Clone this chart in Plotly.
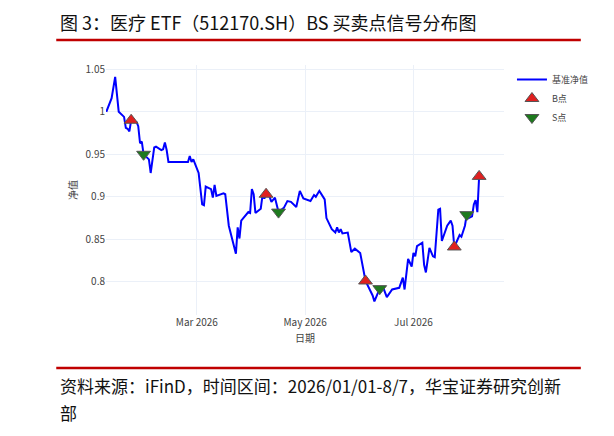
import plotly.graph_objects as go

# net value line
dates = [
    "2026-01-09", "2026-01-12", "2026-01-14", "2026-01-16", "2026-01-19", "2026-01-20",
    "2026-01-21", "2026-01-22", "2026-01-23", "2026-01-26", "2026-01-27", "2026-01-28",
    "2026-01-29", "2026-01-30", "2026-02-02", "2026-02-03", "2026-02-05", "2026-02-06",
    "2026-02-09", "2026-02-10", "2026-02-11", "2026-02-12", "2026-02-13", "2026-02-24",
    "2026-02-25", "2026-02-26", "2026-02-27", "2026-03-02", "2026-03-04", "2026-03-05",
    "2026-03-06", "2026-03-09", "2026-03-10", "2026-03-11", "2026-03-12", "2026-03-16",
    "2026-03-17", "2026-03-19", "2026-03-23", "2026-03-24", "2026-03-25", "2026-03-26",
    "2026-03-30", "2026-03-31", "2026-04-01", "2026-04-02", "2026-04-03", "2026-04-06",
    "2026-04-07", "2026-04-08", "2026-04-09", "2026-04-11", "2026-04-12", "2026-04-14",
    "2026-04-16", "2026-04-19", "2026-04-21", "2026-04-23", "2026-04-26", "2026-04-28",
    "2026-04-30", "2026-05-04", "2026-05-06", "2026-05-07", "2026-05-09", "2026-05-12",
    "2026-05-13", "2026-05-16", "2026-05-18", "2026-05-19", "2026-05-20", "2026-05-21",
    "2026-05-22", "2026-05-25", "2026-05-27", "2026-05-29", "2026-06-01", "2026-06-04",
    "2026-06-08", "2026-06-09", "2026-06-12", "2026-06-14", "2026-06-16", "2026-06-19",
    "2026-06-23", "2026-06-25", "2026-06-26", "2026-06-28", "2026-06-30", "2026-07-01",
    "2026-07-02", "2026-07-03", "2026-07-06", "2026-07-07", "2026-07-08", "2026-07-10",
    "2026-07-12", "2026-07-13", "2026-07-15", "2026-07-16", "2026-07-17", "2026-07-20",
    "2026-07-22", "2026-07-23", "2026-07-24", "2026-07-27", "2026-07-28", "2026-07-30",
    "2026-07-31", "2026-08-01", "2026-08-03", "2026-08-04", "2026-08-05", "2026-08-06",
    "2026-08-07",
]
nav = [
    1.000, 1.016, 1.041, 1.000, 0.994, 0.981,
    0.980, 0.977, 0.990, 0.988, 0.983, 0.963,
    0.965, 0.950, 0.944, 0.928, 0.958, 0.959,
    0.955, 0.956, 0.964, 0.955, 0.941, 0.941,
    0.948, 0.941, 0.944, 0.928, 0.891, 0.890,
    0.912, 0.909, 0.899, 0.914, 0.901, 0.904,
    0.903, 0.866, 0.833, 0.864, 0.851, 0.872,
    0.882, 0.881, 0.909, 0.903, 0.881, 0.886,
    0.902, 0.898, 0.903, 0.900, 0.894, 0.899,
    0.882, 0.887, 0.895, 0.894, 0.888, 0.907,
    0.898, 0.895, 0.902, 0.900, 0.907, 0.897,
    0.875, 0.862, 0.858, 0.864, 0.858, 0.862,
    0.857, 0.858, 0.835, 0.839, 0.834, 0.801,
    0.784, 0.777, 0.792, 0.793, 0.782, 0.791,
    0.793, 0.805, 0.791, 0.827, 0.818, 0.834,
    0.830, 0.842, 0.846, 0.820, 0.811, 0.840,
    0.830, 0.829, 0.885, 0.886, 0.848, 0.866,
    0.872, 0.866, 0.841, 0.855, 0.853, 0.866,
    0.879, 0.875, 0.877, 0.891, 0.896, 0.882,
    0.924,
]

b_dates = ["2026-01-23", "2026-04-09", "2026-06-04", "2026-07-24", "2026-08-07"]
b_vals = [0.990, 0.903, 0.801, 0.841, 0.924]
s_dates = ["2026-01-30", "2026-04-16", "2026-06-12", "2026-07-31"]
s_vals = [0.950, 0.882, 0.792, 0.879]

font = "Noto Sans CJK SC, Noto Sans, sans-serif"

fig = go.Figure()
fig.add_trace(go.Scatter(x=dates, y=nav, mode="lines", name="基准净值",
                         line=dict(color="#0000ff", width=2)))
fig.add_trace(go.Scatter(x=b_dates, y=b_vals, mode="markers", name="B点",
                         marker=dict(symbol="triangle-up", size=12, color="#e02020",
                                     line=dict(color="#555555", width=1))))
fig.add_trace(go.Scatter(x=s_dates, y=s_vals, mode="markers", name="S点",
                         marker=dict(symbol="triangle-down", size=12, color="#1e7a1e",
                                     line=dict(color="#555555", width=1))))

fig.update_layout(
    width=614, height=436,
    template="plotly_white",
    font=dict(family=font, size=10, color="#444"),
    margin=dict(l=98, r=118, t=57, b=129),
    legend=dict(x=1.02, y=1.0, yanchor="top", font=dict(size=9), bgcolor="rgba(0,0,0,0)"),
    xaxis=dict(title=dict(text="日期", font=dict(size=10), standoff=6),
               range=["2026-01-08 20:00", "2026-08-21"],
               tickvals=["2026-03-01", "2026-05-01", "2026-07-01"],
               ticktext=["Mar 2026", "May 2026", "Jul 2026"],
               showline=False, zeroline=False),
    yaxis=dict(title=dict(text="净值", font=dict(size=10), standoff=6),
               range=[0.761, 1.055], tickvals=[0.8, 0.85, 0.9, 0.95, 1, 1.05],
               ticktext=["0.8", "0.85", "0.9", "0.95", "1", "1.05"], zeroline=False),
)

# report frame: title, red rules and source note
fig.add_annotation(text="图 3：医疗 ETF（512170.SH）BS 买卖点信号分布图", xref="paper", yref="paper",
                   x=-0.12, y=1.172, xanchor="left", yanchor="middle", showarrow=False,
                   font=dict(family=font, size=18, color="#111"))
fig.add_shape(type="line", xref="paper", yref="paper", x0=-0.125, x1=1.193, y0=1.10, y1=1.10,
              line=dict(color="#c00000", width=2.5))
fig.add_shape(type="line", xref="paper", yref="paper", x0=-0.125, x1=1.193, y0=-0.212, y1=-0.212,
              line=dict(color="#c00000", width=2.5))
fig.add_annotation(text="资料来源：iFinD，时间区间：2026/01/01-8/7，华宝证券研究创新", xref="paper", yref="paper",
                   x=-0.12, y=-0.28, xanchor="left", yanchor="middle", showarrow=False,
                   font=dict(family=font, size=17, color="#111"))
fig.add_annotation(text="部", xref="paper", yref="paper",
                   x=-0.12, y=-0.39, xanchor="left", yanchor="middle", showarrow=False,
                   font=dict(family=font, size=17, color="#111"))

fig.write_html("out.html")
